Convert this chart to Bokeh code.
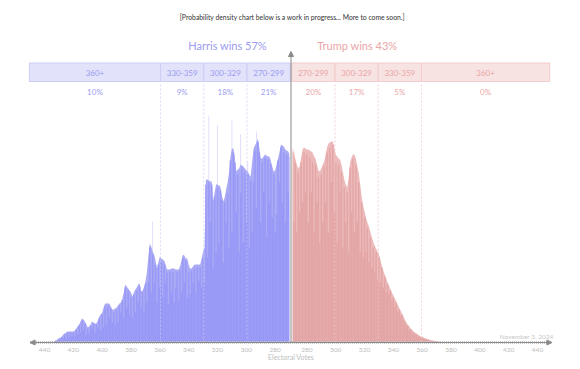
from bokeh.plotting import figure
from bokeh.models import Arrow, NormalHead, Range1d
from bokeh.core.properties import value
from bokeh.embed import file_html
from bokeh.resources import INLINE

# ---------------- data ----------------
TOTAL_EV = 538
harris_start = 270
# light envelope (relative density) for Harris EV 270..440
harris_env = [
    188, 191, 192, 193, 196, 197, 198, 190, 184, 178,
    172, 171, 176, 182, 186, 186, 187, 188, 186, 184,
    184, 195, 204, 200, 197, 194, 180, 166, 168, 171,
    172, 174, 176, 177, 178, 174, 173, 171, 186, 194,
    194, 186, 170, 160, 153, 145, 141, 148, 156, 157,
    158, 158, 150, 141, 161, 161, 162, 163, 163, 95,
    91, 84, 78, 78, 78, 78, 78, 76, 74, 74,
    78, 84, 84, 87, 88, 82, 76, 73, 73, 73,
    74, 74, 74, 73, 73, 73, 78, 82, 83, 84,
    86, 80, 74, 82, 88, 91, 96, 99, 85, 70,
    61, 55, 52, 51, 59, 58, 55, 53, 50, 46,
    50, 52, 54, 56, 58, 50, 44, 40, 39, 37,
    35, 34, 33, 33, 36, 39, 39, 39, 39, 35,
    30, 28, 26, 22, 19, 19, 20, 21, 18, 16,
    15, 18, 21, 23, 24, 21, 18, 16, 14, 12,
    11, 11, 11, 11, 11, 10, 9, 8, 6, 5,
    4, 3, 2, 1, 0.5, 0.3, 0.2, 0.1, 0, 0, 0,
]
# per-EV outcome density for Harris EV 270..440
harris_bars = [
    186, 150, 188, 120, 190, 140, 195, 160, 182, 128,
    110, 168, 125, 178, 140, 183, 105, 185, 150, 180,
    120, 190, 201, 135, 192, 160, 110, 162, 95, 168,
    120, 170, 100, 173, 150, 90, 168, 130, 180, 190,
    110, 182, 95, 150, 120, 140, 80, 143, 152, 100,
    155, 90, 146, 75, 158, 120, 160, 85, 158, 60,
    85, 55, 75, 62, 76, 50, 74, 60, 72, 48,
    70, 45, 82, 60, 85, 50, 72, 42, 70, 55,
    40, 70, 50, 71, 38, 70, 60, 78, 45, 80,
    55, 78, 40, 78, 60, 88, 50, 95, 60, 40,
    58, 30, 50, 35, 56, 40, 52, 30, 48, 25,
    45, 28, 52, 35, 55, 25, 42, 30, 37, 20,
    33, 18, 30, 20, 34, 25, 37, 18, 36, 15,
    28, 12, 24, 15, 18, 10, 19, 14, 17, 9,
    14, 8, 19, 12, 22, 10, 17, 8, 13, 6,
    10, 6, 10, 5, 10, 4, 8, 4, 5, 2,
    4, 2, 2, 1, 0.5, 0.3, 0.2, 0.1, 0, 0, 0,
]
# faint tall single-outcome spikes (Harris EV, density)
harris_spike_ev = [326, 320, 310, 304, 299, 293, 365]
harris_spike_val = [227, 217, 222, 208, 181, 211, 121]

trump_start = 270
# light envelope for Trump EV 270..380
trump_env = [
    196, 190, 184, 178, 174, 176, 185, 193, 195, 194,
    193, 193, 192, 191, 190, 186, 184, 178, 172, 171,
    174, 178, 181, 188, 195, 199, 200, 201, 201, 195,
    188, 186, 184, 183, 178, 170, 163, 158, 155, 165,
    180, 185, 188, 188, 184, 176, 170, 158, 146, 137,
    131, 125, 120, 116, 111, 106, 101, 97, 94, 91,
    88, 83, 77, 72, 68, 64, 60, 57, 53, 50,
    47, 44, 41, 38, 35, 32, 29, 26, 23, 20,
    18, 16, 14, 13, 11, 10, 9, 8, 7, 6,
    6, 5, 4, 4, 3, 3, 2, 2, 2, 1.5,
    1.2, 1, 0.8, 0.6, 0.5, 0.4, 0.3, 0.2, 0.1, 0.05, 0,
]
trump_bars = [
    190, 120, 180, 110, 170, 130, 180, 140, 190, 150,
    188, 120, 185, 150, 180, 110, 178, 140, 165, 100,
    168, 120, 176, 140, 190, 110, 195, 160, 198, 130,
    180, 100, 178, 150, 170, 95, 155, 120, 150, 90,
    175, 130, 184, 110, 178, 120, 160, 90, 140, 85,
    125, 90, 115, 80, 105, 75, 95, 70, 90, 62,
    85, 60, 75, 55, 66, 50, 58, 48, 52, 42,
    45, 36, 40, 30, 33, 26, 28, 22, 21, 17,
    17, 12, 13, 10, 10, 8, 8, 6, 6, 5,
    5, 4, 4, 3, 3, 2, 2, 1.5, 1.5, 1,
    1, 0.8, 0.6, 0.5, 0.4, 0.3, 0.2, 0.1, 0.1, 0, 0,
]

band_labels = ["360+", "330-359", "300-329", "270-299"]
harris_band_lo = [360, 330, 300, 270]
harris_band_hi = [450, 359, 329, 299]
harris_band_pct = ["10%", "9%", "18%", "21%"]
trump_band_labels = ["270-299", "300-329", "330-359", "360+"]
trump_band_lo = [270, 300, 330, 360]
trump_band_hi = [299, 329, 359, 448]
trump_band_pct = ["20%", "17%", "5%", "0%"]

harris_headline = "Harris wins 57%"
trump_headline = "Trump wins 43%"
tick_values = [440, 420, 400, 380, 360, 340, 320, 300, 280]
title_text = "[Probability density chart below is a work in progress... More to come soon.]"
date_text = "November 3, 2024"
axis_title = "Electoral Votes"

# ---------------- colours / style ----------------
H_DARK, H_LIGHT, H_SPIKE = "#9898f7", "#ababf5", "#dcdcfa"
T_DARK, T_LIGHT = "#e3a5a5", "#ecbaba"
H_TXT, T_TXT = "#9c9cf0", "#e9a6a6"
H_BOX, H_BOX_LINE = "#e2e2fb", "#cdcdf6"
T_BOX, T_BOX_LINE = "#f8e3e3", "#f1cccc"
FONT = value("Lato")

TIE = TOTAL_EV / 2  # 269: centre of the axis


def hpos(h):  # Harris EV -> axis position (mirrored to the left)
    return TOTAL_EV - h


harris_ev = list(range(harris_start, harris_start + len(harris_env)))
trump_ev = list(range(trump_start, trump_start + len(trump_env)))
hx = [hpos(h) for h in harris_ev]

p = figure(width=580, height=369, output_backend="svg", toolbar_location=None,
           x_range=Range1d(67.47, 469.83), y_range=Range1d(-27, 342),
           min_border=0, min_border_left=0, min_border_right=0,
           min_border_top=0, min_border_bottom=0)
p.axis.visible = False
p.grid.visible = False
p.outline_line_color = None
p.background_fill_color = "white"

# faint spikes
p.vbar(x=[hpos(h) for h in harris_spike_ev], width=0.6, top=harris_spike_val, bottom=0,
       fill_color=H_SPIKE, line_color=None)
# envelopes
p.varea(x=hx, y1=0, y2=harris_env, fill_color=H_LIGHT)
p.varea(x=trump_ev, y1=0, y2=trump_env, fill_color=T_LIGHT)
# per-EV bars
p.vbar(x=hx, width=1.0, top=harris_bars, bottom=0, fill_color=H_DARK, line_color=None)
p.vbar(x=trump_ev, width=1.0, top=trump_bars, bottom=0, fill_color=T_DARK, line_color=None)

# band boxes
hl = [hpos(h) - 0.5 for h in harris_band_hi]
hr = [hpos(l) + 0.5 for l in harris_band_lo]
tl = [l - 0.5 for l in trump_band_lo]
tr = [h + 0.5 for h in trump_band_hi]
BOX_TOP, BOX_BOT = 279.5, 261
p.quad(left=hl, right=hr, top=BOX_TOP, bottom=BOX_BOT, fill_color=H_BOX, line_color=H_BOX_LINE, line_width=1)
p.quad(left=tl, right=tr, top=BOX_TOP, bottom=BOX_BOT, fill_color=T_BOX, line_color=T_BOX_LINE, line_width=1)

hc = [(a + b) / 2 for a, b in zip(hl, hr)]
tc = [(a + b) / 2 for a, b in zip(tl, tr)]
p.text(x=hc, y=[270] * 4, text=band_labels, text_align="center", text_baseline="middle",
       text_font=FONT, text_font_size="8px", text_color=H_TXT)
p.text(x=tc, y=[270] * 4, text=trump_band_labels, text_align="center", text_baseline="middle",
       text_font=FONT, text_font_size="8px", text_color=T_TXT)
p.text(x=hc, y=[251] * 4, text=harris_band_pct, text_align="center", text_baseline="middle",
       text_font=FONT, text_font_size="8px", text_color=H_TXT)
p.text(x=tc, y=[251] * 4, text=trump_band_pct, text_align="center", text_baseline="middle",
       text_font=FONT, text_font_size="8px", text_color=T_TXT)

# dashed guide lines at band boundaries
h_guides = hl[1:]
t_guides = tr[:-1]
p.segment(x0=h_guides, y0=[0] * 3, x1=h_guides, y1=[260] * 3, line_color="#c9c9f2",
          line_alpha=0.7, line_dash="2 2", line_width=1)
p.segment(x0=t_guides, y0=[0] * 3, x1=t_guides, y1=[260] * 3, line_color="#f0c4c4",
          line_alpha=0.8, line_dash="2 2", line_width=1)

# central divider with arrow
p.segment(x0=[TIE], y0=[0], x1=[TIE], y1=[258], line_color="white", line_width=3)
p.add_layout(Arrow(end=NormalHead(size=5, fill_color="#8a8a8a", line_color="#8a8a8a"),
                   x_start=TIE, y_start=0, x_end=TIE, y_end=291,
                   line_color="#8a8a8a", line_width=1))

# headline texts
p.text(x=[TIE - 44], y=[297], text=[harris_headline], text_align="center", text_baseline="middle",
       text_font=FONT, text_font_size="11px", text_color=H_TXT)
p.text(x=[TIE + 46], y=[297], text=[trump_headline], text_align="center", text_baseline="middle",
       text_font=FONT, text_font_size="11px", text_color=T_TXT)
p.text(x=[TIE + 1], y=[326], text=[title_text], text_align="center", text_baseline="middle",
       text_font=FONT, text_font_size="6.8px", text_color="#333333")

# x axis with arrows both ends
ax_lo, ax_hi = hpos(harris_band_hi[0]), harris_band_hi[0]
p.segment(x0=[ax_lo], y0=[0], x1=[ax_hi], y1=[0], line_color="#c4c4c4", line_width=3, line_dash="1 1")
p.add_layout(Arrow(start=NormalHead(size=5, fill_color="#8a8a8a", line_color="#8a8a8a"),
                   end=NormalHead(size=5, fill_color="#8a8a8a", line_color="#8a8a8a"),
                   x_start=ax_lo, y_start=0, x_end=ax_hi, y_end=0,
                   line_color="#8a8a8a", line_width=1))

tick_x = [hpos(v) for v in tick_values] + list(reversed(tick_values))
tick_txt = [str(v) for v in tick_values] + [str(v) for v in reversed(tick_values)]
p.text(x=tick_x, y=[-7] * len(tick_x), text=tick_txt, text_align="center", text_baseline="middle",
       text_font=FONT, text_font_size="6.5px", text_color="#bdbdbd")
p.text(x=[TIE], y=[-14], text=[axis_title], text_align="center", text_baseline="middle",
       text_font=FONT, text_font_size="7px", text_color="#bdbdbd")
p.text(x=[451], y=[6], text=[date_text], text_align="right", text_baseline="middle",
       text_font=FONT, text_font_size="6.5px", text_color="#c8c8c8")

open("out.html", "w").write(file_html(p, INLINE))
